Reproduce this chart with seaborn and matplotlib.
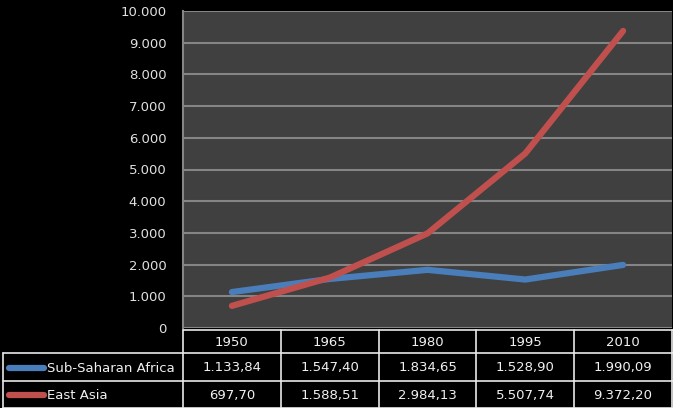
import matplotlib
matplotlib.use("Agg")
import matplotlib.pyplot as plt
import seaborn as sns
import pandas as pd
from matplotlib.ticker import FuncFormatter

years = [1950, 1965, 1980, 1995, 2010]
africa = [1133.84, 1547.40, 1834.65, 1528.90, 1990.09]
east_asia = [697.70, 1588.51, 2984.13, 5507.74, 9372.20]
series_names = ["Sub-Saharan Africa", "East Asia"]
colors = ["#4a7ebb", "#c0504d"]
yticks = list(range(0, 10001, 1000))

df = pd.DataFrame({
    "year": years * 2,
    "value": africa + east_asia,
    "series": [series_names[0]] * 5 + [series_names[1]] * 5,
})

sns.set_theme(style="dark")
plt.rcParams['font.family'] = ['DejaVu Sans']

W, H = 673, 408
fig = plt.figure(figsize=(W / 100, H / 100), dpi=100, facecolor="black")

left, right, top, bottom = 183, 672, 11, 328
ax = fig.add_axes([left / W, 1 - bottom / H, (right - left) / W, (bottom - top) / H])
ax.set_facecolor("#404040")

sns.lineplot(data=df, x="year", y="value", hue="series", palette=colors,
             linewidth=4.5, ax=ax, legend=False)
for ln in ax.lines:
    ln.set_solid_capstyle("round")
    ln.set_solid_joinstyle("round")

ax.set_xlim(1942.5, 2017.5)
ax.set_ylim(0, 10000)
ax.set_yticks(yticks)
ax.yaxis.set_major_formatter(FuncFormatter(lambda v, p: f"{int(v):,}".replace(",", ".")))
ax.set_xticks([])
ax.tick_params(axis="y", colors="#e0e0e0", labelsize=9.5, length=0, pad=12)
ax.grid(True, axis="y", color="#858585", linewidth=1.5)
ax.grid(False, axis="x")
ax.set_axisbelow(True)
ax.set_xlabel("")
ax.set_ylabel("")
for s in ["top", "right", "bottom"]:
    ax.spines[s].set_visible(False)
ax.spines["left"].set_color("#858585")
ax.spines["left"].set_linewidth(1.5)

# Data table overlay in pixel coordinates
tab = fig.add_axes([0, 0, 1, 1], facecolor="none")
tab.set_xlim(0, W)
tab.set_ylim(H, 0)
tab.axis("off")

lc = "#e8e8e8"
lw = 1.2
colw = (right - left) / len(years)
col_edges = [left + i * colw for i in range(len(years) + 1)]
row_edges = [330, 353, 381, 407.5]

tab.plot([left, W], [row_edges[0], row_edges[0]], color=lc, lw=lw)
for x in col_edges:
    tab.plot([x, x], [row_edges[0], row_edges[3]], color=lc, lw=lw)
for y in row_edges[1:]:
    tab.plot([3, W], [y, y], color=lc, lw=lw)
tab.plot([3, 3], [row_edges[1], row_edges[3]], color=lc, lw=lw)

txt_color = "#f0f0f0"
for i, yr in enumerate(years):
    cx = left + (i + 0.5) * colw
    tab.text(cx, (row_edges[0] + row_edges[1]) / 2 + 1, str(yr), color=txt_color,
             ha="center", va="center", fontsize=9.5)

def fmt(v):
    s = f"{v:,.2f}"
    return s.replace(",", "X").replace(".", ",").replace("X", ".")

for r, (name, vals, c) in enumerate(zip(series_names, [africa, east_asia], colors)):
    cy = (row_edges[r + 1] + row_edges[r + 2]) / 2 + 1
    tab.plot([9, 44], [cy, cy], color=c, lw=4.5, solid_capstyle="round")
    tab.text(47, cy, name, color=txt_color, ha="left", va="center", fontsize=9.5)
    for i, v in enumerate(vals):
        cx = left + (i + 0.5) * colw
        tab.text(cx, cy, fmt(v), color=txt_color, ha="center", va="center", fontsize=9.5)

fig.savefig("out.png", dpi=100, facecolor="black")
